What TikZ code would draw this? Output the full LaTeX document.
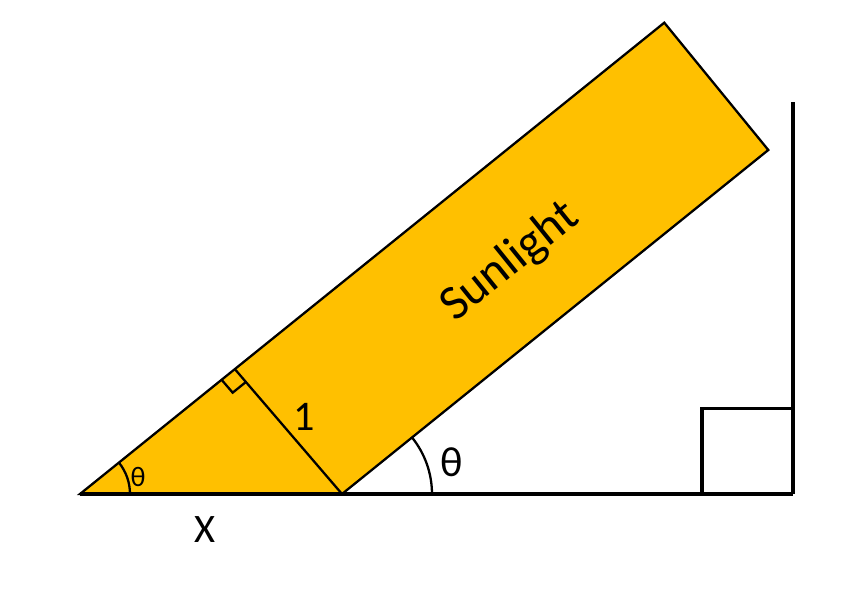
\documentclass[tikz,border=0pt]{standalone}
\usepackage{fontspec}
\setmainfont{Carlito}
\usetikzlibrary{calc}
\definecolor{sungold}{HTML}{FFC000}
\tikzset{
  beam/.style={draw,line width=1.3pt,fill=sungold,line join=miter},
  ground/.style={line width=2.3pt},
  corner/.style={line width=2pt},
  thin/.style={line width=1.3pt},
  angarc/.style={line width=1.3pt},
  lbl/.style={inner sep=0pt,font=\fontsize{23}{26}\selectfont}
}
\begin{document}
\begin{tikzpicture}[x=0.02cm,y=0.02cm]
  \useasboundingbox (0,0) rectangle (850,608);

  % --- Points du faisceau ---
  \coordinate (A) at (80,114);
  \coordinate (T) at (664.3,585.3);
  \coordinate (R) at (768.3,458);
  \coordinate (B) at (342,114);
  \coordinate (F) at ($(A)!0.265!(T)$);

  % --- Faisceau ---
  \draw[beam] (A) -- (T) -- (R) -- (B) -- cycle;
  \draw[thin] (F) -- (B);

  % angle droit
  \coordinate (Fa) at ($(F)!0.34cm!(A)$);
  \coordinate (Fb) at ($(F)!0.34cm!(B)$);
  \draw[thin] (Fa) -- ($(Fa)+(Fb)-(F)$) -- (Fb);

  % --- Sol et mur ---
  \coordinate (G) at (793,114);
  \coordinate (W) at (793,506.3);
  \coordinate (S) at (702,199.7);
  \draw[ground] (A) -- (G);
  \draw[ground] (G) -- (W);
  \draw[corner] (702,114) -- (S) -- (793,199.7);

  % --- Angles ---
  \draw[angarc] ([shift={(0:1cm)}]A) arc[start angle=0,end angle=38.9,radius=1cm];
  \draw[angarc] ([shift={(0:1.8cm)}]B) arc[start angle=0,end angle=38.9,radius=1.8cm];

  % --- Textes ---
  \node[lbl,font=\fontsize{16}{18}\selectfont] (tsmall) at (138,131) {θ};
  \node[lbl,font=\fontsize{24}{28}\selectfont] (tbig) at (452,146) {θ};
  \node[lbl,font=\fontsize{24}{28}\selectfont] (one) at (304,191) {1};
  \node[lbl] (xlen) at (205,78) {X};
  \node[lbl,font=\fontsize{28}{32}\selectfont,rotate=38.9] (sun) at (510,346) {Sunlight};

\end{tikzpicture}
\end{document}
